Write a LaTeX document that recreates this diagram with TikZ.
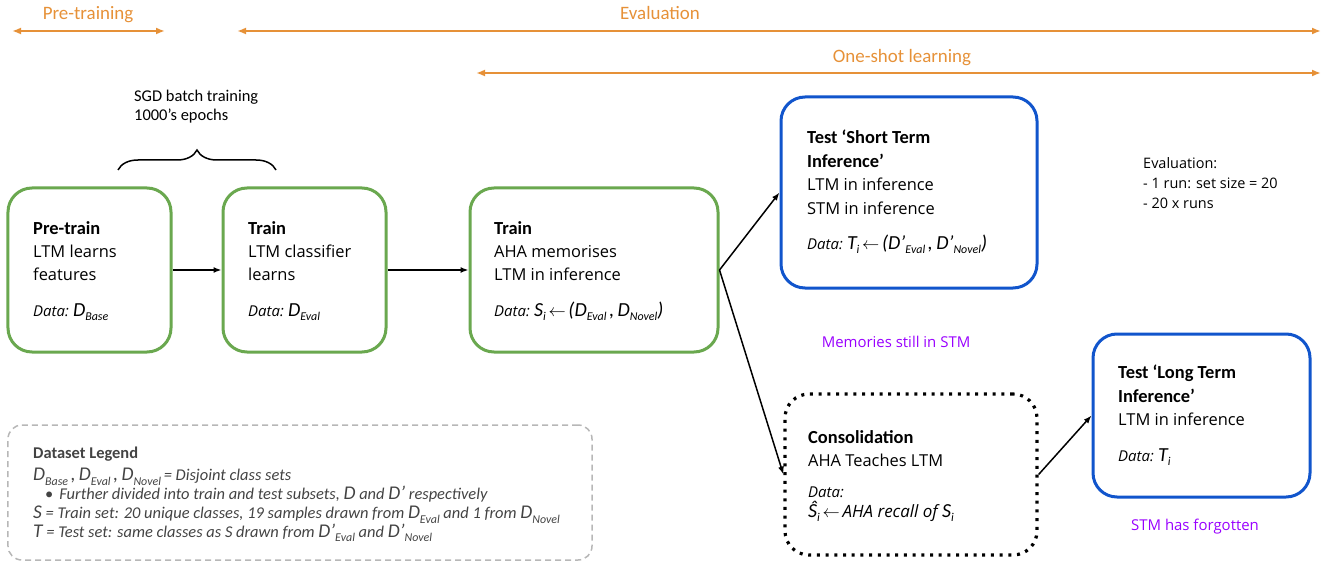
\documentclass[tikz,border=0pt]{standalone}
\usepackage{fontspec}
\setmainfont{Open Sans}
\newfontfamily\calf{Carlito}
\usetikzlibrary{arrows.meta,decorations.pathreplacing}
\definecolor{grn}{HTML}{6AA84F}
\definecolor{blu}{HTML}{1155CC}
\definecolor{org}{HTML}{E69138}
\definecolor{pur}{HTML}{9900FF}
\definecolor{lgr}{HTML}{B7B7B7}
\definecolor{txg}{HTML}{434343}
\newcommand\myvar[2]{{\calf\itshape\fontsize{20}{20}\selectfont #1}\raisebox{-4bp}{\calf\itshape\fontsize{12}{12}\selectfont #2}}
\newcommand\smvar[2]{{\calf\itshape\fontsize{19.5}{19}\selectfont #1}\raisebox{-4.5bp}{\calf\itshape\fontsize{12}{12}\selectfont #2}}
\newcommand\datal{{\itshape\fontsize{15}{15}\selectfont Data:}}
\newcommand\ttl[1]{{\calf\bfseries\fontsize{18.5}{24}\selectfont #1}}
\begin{document}
\begin{tikzpicture}[x=1bp,y=-1bp,
  gbox/.style={draw=grn,line width=3bp,rounded corners=24bp},
  bbox/.style={draw=blu,line width=3bp,rounded corners=24bp},
  dbox/.style={draw=black,line width=3.2bp,dash pattern=on 3bp off 5.7bp,rounded corners=24bp},
  lbox/.style={draw=lgr,line width=1.5bp,dash pattern=on 6bp off 4bp,rounded corners=14bp},
  body/.style={anchor=north west,inner sep=0pt,align=left,font=\fontsize{16.5}{23.5}\selectfont},
  span/.style={draw=org,line width=2bp,{Latex[length=9bp,width=7bp]}-{Latex[length=9bp,width=7bp]}},
  olab/.style={text=org,font=\calf\fontsize{19}{19}\selectfont,inner sep=0pt},
  plab/.style={text=pur,font=\fontsize{15}{15}\selectfont,inner sep=0pt},
  conn/.style={draw=black,line width=1.5bp,-{Latex[length=8bp,width=6bp]}}]
\useasboundingbox (0,0) rectangle (1329,563);
% spans
\coordinate (p1) at (12,31); \coordinate (p2) at (165,31);
\coordinate (e1) at (237,31); \coordinate (e2) at (1321,31);
\coordinate (o1) at (476,73); \coordinate (o2) at (1321,73);
\draw[span] (p1) -- (p2);
\draw[span] (e1) -- (e2);
\draw[span] (o1) -- (o2);
\node[olab,anchor=base] (lp) at (88,20) {Pre-training};
\node[olab,anchor=base] (le) at (660,20) {Evaluation};
\node[olab,anchor=base] (lo) at (902,63) {One-shot learning};
% SGD
\node[anchor=base west,inner sep=0pt,align=left,font=\calf\fontsize{16.5}{20}\selectfont] (sgd) at (134,121) {SGD batch training\\1000’s epochs};
\coordinate (br1) at (118,170); \coordinate (br2) at (276,170);
\draw[line width=1.5bp,decorate,decoration={brace,amplitude=20bp}] (br1) -- (br2);
% boxes
\node[gbox,minimum width=163bp,minimum height=164bp] (b1) at (89.5,270) {};
\node[gbox,minimum width=163bp,minimum height=164bp] (b2) at (304.5,270) {};
\node[gbox,minimum width=248bp,minimum height=164bp] (b3) at (594,270) {};
\node[bbox,minimum width=256bp,minimum height=191bp] (st) at (909,192.5) {};
\node[dbox,minimum width=252bp,minimum height=161bp] (cs) at (911,474.5) {};
\node[bbox,minimum width=217bp,minimum height=163bp] (lt) at (1201.5,415.5) {};
\node[lbox,minimum width=584bp,minimum height=135bp] (lg) at (300,492.5) {};
% box texts
\node[body] (t1) at (33,221) {\ttl{Pre-train}\\LTM learns\\features\\[12bp]\datal\ \myvar{D}{Base}};
\node[body] (t2) at (248,221) {\ttl{Train}\\LTM classifier\\learns\\[12bp]\datal\ \myvar{D}{Eval}};
\node[body] (t3) at (494,221) {\ttl{Train}\\AHA memorises\\LTM in inference\\[12bp]\datal\ \myvar{S}{i}\,$\leftarrow$\,\myvar{(D}{Eval}\,\myvar{,\,D}{Novel}\myvar{)}{}};
\node[body] (t4) at (807,130) {\ttl{Test ‘Short Term}\\\ttl{Inference’}\\LTM in inference\\STM in inference\\[12bp]\datal\ \myvar{T}{i}\,$\leftarrow$\,\myvar{(D’}{Eval}\,\myvar{,\,D’}{Novel}\myvar{)}{}};
\node[body] (t5) at (808,430) {\ttl{Consolidation}\\AHA Teaches LTM\\[8bp]\datal\\[-4bp]\myvar{Ŝ}{i}\,$\leftarrow$\,{\itshape\fontsize{17}{17}\selectfont AHA recall of }\myvar{S}{i}};
\node[body] (t6) at (1118,365) {\ttl{Test ‘Long Term}\\\ttl{Inference’}\\LTM in inference\\[12bp]\datal\ \myvar{T}{i}};
% legend
\node[anchor=north west,inner sep=0pt,align=left,text=txg,font=\calf\itshape\fontsize{16.5}{19}\selectfont] (lgt) at (33,447) {{\bfseries\upshape\fontsize{16.5}{16}\selectfont Dataset Legend}\\[3bp]
\smvar{D}{Base}\,\smvar{,\,D}{Eval}\,\smvar{,\,D}{Novel}\,= Disjoint class sets\\
\hspace{12bp}{\upshape\textbullet}\hspace{6bp}Further divided into train and test subsets, {\fontsize{19.5}{17}\selectfont D} and {\fontsize{19.5}{17}\selectfont D’} respectively\\
{\fontsize{19.5}{17}\selectfont S} = Train set: 20 unique classes, 19 samples drawn from \smvar{D}{Eval} and 1 from \smvar{D}{Novel}\\
{\fontsize{19.5}{17}\selectfont T} = Test set: same classes as S drawn from \smvar{D’}{Eval} and \smvar{D’}{Novel}};
% side notes
\node[anchor=north west,inner sep=0pt,align=left,font=\fontsize{14.5}{20}\selectfont] (ev) at (1143,157) {Evaluation:\\- 1 run: set size = 20\\- 20 x runs};
\node[plab,anchor=base] (m1) at (896,347) {Memories still in STM};
\node[plab,anchor=base] (m2) at (1195,530) {STM has forgotten};
% connectors
\draw[conn] (b1.east) -- (b2.west);
\draw[conn] (b2.east) -- (b3.west);
\draw[conn] (b3.east) -- (st.west);
\draw[conn] (b3.east) -- (cs.west);
\draw[conn] (cs.east) -- (lt.west);
\end{tikzpicture}
\end{document}
